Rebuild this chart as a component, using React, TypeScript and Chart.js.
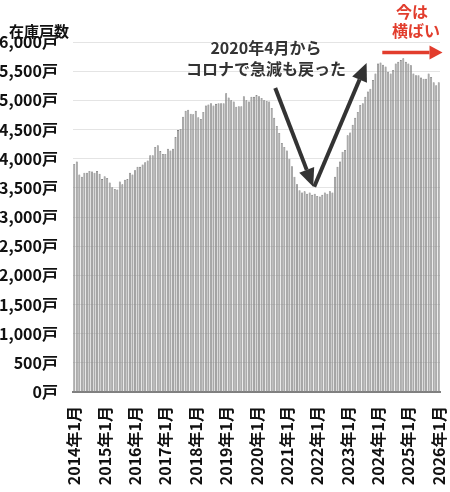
import React, { useEffect, useRef } from 'react';
import { Chart, registerables } from 'chart.js';

Chart.register(...registerables);

// === Data ===
const YEARS = [2014, 2015, 2016, 2017, 2018, 2019, 2020, 2021, 2022, 2023, 2024, 2025, 2026];

// 月次の在庫戸数 (2014年1月〜2026年1月)
const INVENTORY = [
  // 2014
  3910, 3950, 3730, 3690, 3760, 3760, 3790, 3780, 3760, 3790, 3740, 3650,
  // 2015
  3700, 3670, 3590, 3510, 3480, 3470, 3610, 3560, 3640, 3650, 3760, 3730,
  // 2016
  3800, 3860, 3860, 3900, 3940, 3970, 4060, 4060, 4200, 4230, 4130, 4080,
  // 2017
  4080, 4170, 4140, 4170, 4370, 4490, 4510, 4720, 4820, 4840, 4770, 4760,
  // 2018
  4820, 4710, 4680, 4800, 4910, 4930, 4950, 4910, 4940, 4950, 4950, 4950,
  // 2019
  5120, 5050, 5000, 4980, 4890, 4900, 4900, 5070, 5000, 4980, 5060, 5060,
  // 2020
  5090, 5070, 5040, 5000, 4990, 4980, 4870, 4700, 4560, 4440, 4270, 4200,
  // 2021
  4140, 4000, 3870, 3690, 3560, 3460, 3420, 3440, 3400, 3420, 3380, 3400,
  // 2022
  3360, 3350, 3380, 3420, 3400, 3440, 3420, 3690, 3860, 3950, 4120, 4150,
  // 2023
  4400, 4450, 4580, 4700, 4800, 4920, 4950, 5060, 5150, 5200, 5350, 5460,
  // 2024
  5630, 5650, 5610, 5580, 5490, 5460, 5520, 5630, 5660, 5690, 5720, 5660,
  // 2025
  5630, 5600, 5460, 5430, 5430, 5390, 5370, 5370, 5460, 5400, 5310, 5260,
  // 2026
  5310,
];

const MONTH_LABELS: string[] = [];
YEARS.forEach(y => {
  for (let m = 1; m <= 12; m++) {
    if (y === 2026 && m > 1) break;
    MONTH_LABELS.push(`${y}年${m}月`);
  }
});

const Y_MAX = 6000;
const Y_STEP = 500;

const FONT = '"Noto Sans CJK JP", "Noto Sans", sans-serif';

const fmt = (v: number) => String(v).replace(/\B(?=(\d{3})+(?!\d))/g, ',') + '戸';

// === Arrow helper ===
const drawArrow = (
  ctx: CanvasRenderingContext2D,
  x0: number, y0: number, x1: number, y1: number,
  color: string, width: number, headLen: number, headW: number,
) => {
  const ang = Math.atan2(y1 - y0, x1 - x0);
  const bx = x1 - Math.cos(ang) * headLen;
  const by = y1 - Math.sin(ang) * headLen;
  ctx.save();
  ctx.strokeStyle = color;
  ctx.fillStyle = color;
  ctx.lineWidth = width;
  ctx.lineCap = 'butt';
  ctx.beginPath();
  ctx.moveTo(x0, y0);
  ctx.lineTo(bx, by);
  ctx.stroke();
  ctx.beginPath();
  ctx.moveTo(x1, y1);
  ctx.lineTo(bx + Math.sin(ang) * headW / 2, by - Math.cos(ang) * headW / 2);
  ctx.lineTo(bx - Math.sin(ang) * headW / 2, by + Math.cos(ang) * headW / 2);
  ctx.closePath();
  ctx.fill();
  ctx.restore();
};

// === Annotation plugin ===
const annotations = {
  id: 'annotations',
  afterDraw(chart: any) {
    const { ctx, scales } = chart;
    const xs = scales.x;
    const ys = scales.y;
    const px = (i: number) => xs.getPixelForValue(i);
    const py = (v: number) => ys.getPixelForValue(v);

    ctx.save();
    ctx.textBaseline = 'middle';

    // axis title
    ctx.fillStyle = '#111';
    ctx.font = `bold 15px ${FONT}`;
    ctx.textAlign = 'left';
    ctx.fillText('在庫戸数', 9, 31);

    // comment
    ctx.fillStyle = '#333';
    ctx.font = `bold 16px ${FONT}`;
    ctx.textAlign = 'center';
    ctx.fillText('2020年4月から', 266, 48);
    ctx.fillText('コロナで急減も戻った', 266, 69);

    // V arrows
    drawArrow(ctx, px(79.4), py(5210), px(94.4), py(3520), '#333', 4, 18, 16);
    drawArrow(ctx, px(94.8), py(3520), px(115.5), py(5640), '#333', 4, 18, 16);

    // red
    ctx.fillStyle = '#e23d2d';
    ctx.font = `bold 16px ${FONT}`;
    ctx.fillText('今は', 412, 12);
    ctx.fillText('横ばい', 416, 31);
    drawArrow(ctx, px(121.7), py(5820), px(145.5), py(5820), '#e23d2d', 3.5, 13, 14);

    ctx.restore();
  },
};

// === Main Component ===
const App: React.FC = () => {
  const canvasRef = useRef<HTMLCanvasElement>(null);

  useEffect(() => {
    if (!canvasRef.current) return;
    document.body.style.margin = '0';

    const chart = new Chart(canvasRef.current, {
      type: 'bar',
      data: {
        labels: MONTH_LABELS,
        datasets: [{
          data: INVENTORY,
          backgroundColor: '#9c9c9c',
          borderColor: '#6e6e6e',
          borderWidth: 0.6,
          barPercentage: 0.8,
          categoryPercentage: 1,
        }],
      },
      options: {
        responsive: true,
        maintainAspectRatio: false,
        animation: false,
        layout: { padding: { top: 42, right: 10, left: 0, bottom: 0 } },
        plugins: {
          legend: { display: false },
          tooltip: { enabled: false },
        },
        scales: {
          x: {
            grid: { display: false },
            border: { display: true, color: '#808080', width: 2 },
            ticks: {
              autoSkip: false,
              maxRotation: 90,
              minRotation: 90,
              padding: 6,
              color: '#111',
              font: { family: FONT, size: 16, weight: 'bold' },
              callback: (_v: any, i: number) => (i % 12 === 0 ? MONTH_LABELS[i] : ''),
            },
            afterFit: (s: any) => {
              s.height = 100;
              s.paddingLeft = 0;
              s.paddingRight = 0;
            },
          },
          y: {
            min: 0,
            max: Y_MAX,
            grid: { color: '#e4e4e4', drawTicks: false },
            border: { display: false },
            ticks: {
              stepSize: Y_STEP,
              padding: 15,
              color: '#111',
              font: { family: FONT, size: 16, weight: 'bold' },
              callback: (v: any) => fmt(Number(v)),
            },
            afterFit: (s: any) => {
              s.width = 73;
              s.paddingTop = 0;
              s.paddingBottom = 0;
            },
          },
        },
      },
      plugins: [annotations],
    });

    return () => chart.destroy();
  }, []);

  return (
    <div style={{ position: 'relative', width: 450, height: 492, background: '#fff' }}>
      <canvas ref={canvasRef} />
    </div>
  );
};

export default App;
